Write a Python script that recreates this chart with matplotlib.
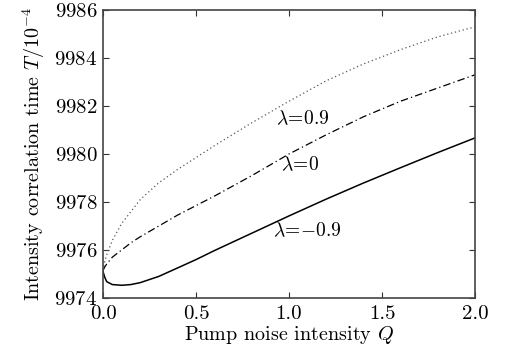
import matplotlib
matplotlib.use("Agg")
import matplotlib.pyplot as plt

plt.rcParams['font.family'] = 'serif'
plt.rcParams['font.serif'] = ['cmr10', 'DejaVu Serif']
plt.rcParams['mathtext.fontset'] = 'cm'
plt.rcParams['axes.formatter.use_mathtext'] = True

Q = [0, 0.01, 0.02, 0.05, 0.1, 0.15, 0.2, 0.3, 0.4, 0.5, 0.6, 0.8, 1.0, 1.2, 1.4, 1.6, 1.8, 2.0]
T_neg = [9975.1, 9974.85, 9974.68, 9974.56, 9974.53, 9974.56, 9974.64, 9974.9, 9975.25, 9975.6,
         9975.98, 9976.7, 9977.42, 9978.12, 9978.79, 9979.43, 9980.06, 9980.67]
T_zero = [9975.15, 9975.3, 9975.42, 9975.7, 9976.0, 9976.3, 9976.55, 9977.0, 9977.45, 9977.85,
          9978.25, 9979.1, 9980.0, 9980.8, 9981.55, 9982.2, 9982.75, 9983.3]
T_pos = [9975.15, 9975.55, 9975.8, 9976.4, 9977.1, 9977.6, 9978.1, 9978.8, 9979.35, 9979.85,
         9980.35, 9981.3, 9982.2, 9983.05, 9983.75, 9984.35, 9984.88, 9985.3]

labels = [r'$\lambda\!=\!0.9$', r'$\lambda\!=\!0$', r'$\lambda\!=\!{-}0.9$']
label_pos = [(1.075, 9981.45), (1.06, 9979.55), (1.1, 9976.8)]

xticks = [0.0, 0.5, 1.0, 1.5, 2.0]
xticklabels = ['0.0', '0.5', '1.0', '1.5', '2.0']
yticks = [9974, 9976, 9978, 9980, 9982, 9984, 9986]

fig = plt.figure(figsize=(5.09, 3.53), dpi=100)
ax = fig.add_axes([0.2024, 0.1558, 0.7308, 0.8159])

ax.plot(Q, T_pos, color='#555555', lw=0.9, linestyle=(0, (1, 2.2)))
ax.plot(Q, T_zero, color='black', lw=0.9, linestyle=(0, (6, 2.5, 1, 2.5)))
ax.plot(Q, T_neg, color='black', lw=1.1, linestyle='-')

for lab, (x, y) in zip(labels, label_pos):
    ax.text(x, y, lab, fontsize=14, ha='center', va='center')

ax.set_xlim(0, 2.0)
ax.set_ylim(9974, 9986)
ax.set_xticks(xticks)
ax.set_xticklabels(xticklabels)
ax.set_yticks(yticks)
ax.tick_params(direction='in', length=4, width=0.8, top=True, right=True,
               labelsize=15, color='#333333', pad=4)
ax.tick_params(axis='x', pad=5)
for s in ax.spines.values():
    s.set_linewidth(1.2)
    s.set_color('#444444')

ax.set_xlabel(r'Pump noise intensity $Q$', fontsize=14.5, labelpad=1)
ax.set_ylabel(r'Intensity correlation time $T$/10$^{-4}$', fontsize=14.5, labelpad=5)

fig.savefig('out.png', dpi=100)
